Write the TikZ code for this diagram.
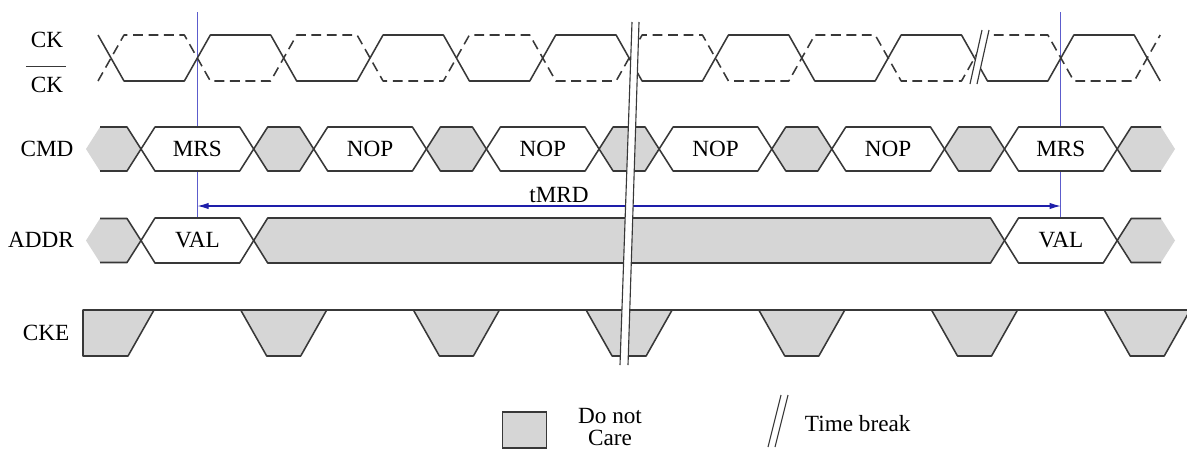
\documentclass[tikz,border=0pt]{standalone}
\usepackage{fontspec}
\setmainfont{Liberation Serif}
\usetikzlibrary{arrows.meta,calc}
\definecolor{WireGray}{HTML}{383838}
\definecolor{DontCareGray}{HTML}{D6D6D6}
\definecolor{MarkerBlue}{HTML}{5C5CCC}
\definecolor{SpanBlue}{HTML}{1E1EAA}

% first clock crossing and half clock period, in sheet pixels
\newcommand{\firstx}{111}
\newcommand{\halfper}{86.35}

\begin{document}
\begin{tikzpicture}[x=0.025cm, y=-0.025cm, font=\fontsize{16.5}{16}\selectfont, >=Latex,
    wire/.style={WireGray, line width=1.1pt, line join=round},
    wiredash/.style={wire, dash pattern=on 7pt off 4pt},
    dontcare/.style={fill=DontCareGray},
    breakline/.style={WireGray, line width=0.8pt}]
  \useasboundingbox (0,0) rectangle (1187,450);

  % tMRD markers, drawn first so that the bus boxes hide them
  \coordinate (mrsA top) at ({\firstx+\halfper},12);
  \coordinate (mrsA bot) at ({\firstx+\halfper},218);
  \coordinate (mrsB top) at ({\firstx+11*\halfper},12);
  \coordinate (mrsB bot) at ({\firstx+11*\halfper},218);
  \draw[MarkerBlue, line width=0.8pt] (mrsA top) -- (mrsA bot);
  \draw[MarkerBlue, line width=0.8pt] (mrsB top) -- (mrsB bot);

  % CK solid, CK# dashed
  \draw[wire] ({\firstx-13},35)
    \foreach \k in {0,...,11}{
      -- ({\firstx+\halfper*\k+13},{35+46*(1-mod(\k,2))})
      -- ({\firstx+\halfper*(\k+1)-13},{35+46*(1-mod(\k,2))})}
    -- ({\firstx+\halfper*12+13},81);
  \draw[wiredash] ({\firstx-13},81)
    \foreach \k in {0,...,11}{
      -- ({\firstx+\halfper*\k+13},{35+46*mod(\k,2)})
      -- ({\firstx+\halfper*(\k+1)-13},{35+46*mod(\k,2)})}
    -- ({\firstx+\halfper*12+13},35);

  % CMD bus
  \foreach \k/\cmd in {1/MRS,3/NOP,5/NOP,7/NOP,9/NOP,11/MRS}{
    \pgfmathsetmacro{\cx}{\firstx+\halfper*\k}
    \draw[wire, fill=white] ({\cx-56.35},149) -- ({\cx-42.35},127) -- ({\cx+42.35},127)
      -- ({\cx+56.35},149) -- ({\cx+42.35},171) -- ({\cx-42.35},171) -- cycle;
    \node (cmd\k) at (\cx,149) {\cmd};
  }
  \foreach \k in {2,4,...,10}{
    \pgfmathsetmacro{\cx}{\firstx+\halfper*\k}
    \draw[wire, dontcare] ({\cx-30},149) -- ({\cx-16},127) -- ({\cx+16},127)
      -- ({\cx+30},149) -- ({\cx+16},171) -- ({\cx-16},171) -- cycle;
  }

  % ADDR bus
  \foreach \k in {1,11}{
    \pgfmathsetmacro{\cx}{\firstx+\halfper*\k}
    \draw[wire, fill=white] ({\cx-56.35},240.5) -- ({\cx-42.35},218) -- ({\cx+42.35},218)
      -- ({\cx+56.35},240.5) -- ({\cx+42.35},263) -- ({\cx-42.35},263) -- cycle;
    \node (val\k) at (\cx,240.5) {VAL};
  }
  \draw[wire, dontcare] ({\firstx+\halfper+56.35},240.5) -- ({\firstx+\halfper+70.35},218)
    -- ({\firstx+11*\halfper-70.35},218) -- ({\firstx+11*\halfper-56.35},240.5)
    -- ({\firstx+11*\halfper-70.35},263) -- ({\firstx+\halfper+70.35},263) -- cycle;

  % open ends of both buses
  \foreach \ym in {149,240.5}{
    \fill[dontcare] (86,\ym) -- (100,{\ym-22}) -- ({\firstx+16},{\ym-22}) -- ({\firstx+30},\ym)
      -- ({\firstx+16},{\ym+22}) -- (100,{\ym+22}) -- cycle;
    \draw[wire] (100,{\ym-22}) -- ({\firstx+16},{\ym-22}) -- ({\firstx+30},\ym)
      -- ({\firstx+16},{\ym+22}) -- (100,{\ym+22});
    \fill[dontcare] (1175,\ym) -- (1161,{\ym-22}) -- ({\firstx+12*\halfper-16},{\ym-22})
      -- ({\firstx+12*\halfper-30},\ym) -- ({\firstx+12*\halfper-16},{\ym+22}) -- (1161,{\ym+22}) -- cycle;
    \draw[wire] (1161,{\ym-22}) -- ({\firstx+12*\halfper-16},{\ym-22})
      -- ({\firstx+12*\halfper-30},\ym) -- ({\firstx+12*\halfper-16},{\ym+22}) -- (1161,{\ym+22});
  }

  % tMRD span
  \coordinate (spanL) at ({\firstx+\halfper},206);
  \coordinate (spanR) at ({\firstx+11*\halfper},206);
  \draw[<->, SpanBlue, line width=0.8pt, >={Latex[length=8pt,width=4.5pt]}] (spanL) -- (spanR);
  \node (tmrd) at (559,195) {tMRD};

  % CKE
  \draw[wire] (83,310) -- (1190,310);
  \filldraw[wire, dontcare] (83,310) -- ({\firstx+43},310) -- ({\firstx+17},356) -- (83,356) -- cycle;
  \foreach \k in {2,4,...,12}{
    \pgfmathsetmacro{\cx}{\firstx+\halfper*\k}
    \filldraw[wire, dontcare] ({\cx-43},310) -- ({\cx-17},356) -- ({\cx+17},356) -- ({\cx+43},310) -- cycle;
  }

  % time breaks
  \fill[white] (632,22) -- (639,22) -- (628,365) -- (620,365) -- cycle;
  \draw[breakline] (632,22) -- (620,365);
  \draw[breakline] (639,22) -- (628,365);
  \fill[white] (970,84) -- (982,30) -- (989,30) -- (977,84) -- cycle;
  \draw[breakline] (970,84) -- (982,30);
  \draw[breakline] (977,84) -- (989,30);

  % signal names
  \node (lblck) at (47,40) {CK};
  \node (lblckn) at (47,85) {CK};
  \draw[WireGray, line width=0.8pt] ($(lblckn.north west)+(0,-6)$) -- ($(lblckn.north east)+(-2,-6)$);
  \node (lblcmd) at (47,149) {CMD};
  \node (lbladdr) at (41,240) {ADDR};
  \node (lblcke) at (46,333) {CKE};

  % legend
  \node[draw=WireGray, line width=1.1pt, fill=DontCareGray, minimum width=1.1cm,
    minimum height=0.9cm, inner sep=0pt] (legcare) at (524.5,430) {};
  \node[align=center, inner sep=0pt, font=\fontsize{16.5}{15}\selectfont] (legcaretxt) at (610,427) {Do not\\Care};
  \draw[breakline] (768,447) -- (781,395);
  \draw[breakline] (775,447) -- (788,395);
  \node[anchor=west] (legbreak) at (800,424) {Time break};
\end{tikzpicture}
\end{document}
